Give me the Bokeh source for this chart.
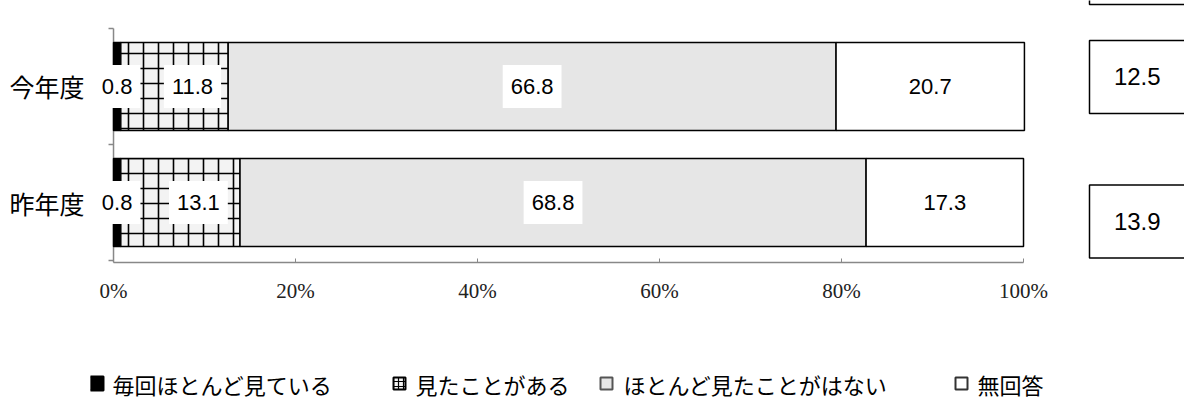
import numpy as np
from bokeh.plotting import figure
from bokeh.models import Range1d, FixedTicker, Label
from bokeh.layouts import column
from bokeh.core.properties import value
from bokeh.embed import file_html
from bokeh.resources import INLINE

# ---------------- data ----------------
years = ["今年度", "昨年度"]
year_pos = [1, 0]
series_names = ["毎回ほとんど見ている", "見たことがある", "ほとんど見たことがはない", "無回答"]
every_time = [0.8, 0.8]
seen_before = [11.8, 13.1]
rarely_seen = [66.8, 68.8]
no_answer = [20.7, 17.3]
side_values = [12.5, 13.9]
x_ticks = [0, 20, 40, 60, 80, 100]
x_tick_labels = ["0%", "20%", "40%", "60%", "80%", "100%"]

# ---------------- styles ----------------
fills = ["black", "#f3f3f3", "#e6e6e6", "white"]
hatches = ["blank", "+", "blank", "blank"]
label_offsets = [0, 18, 0, 0]
VAL_FONT = "Liberation Sans"
CJK_FONT = "Noto Sans CJK JP"
AXIS_COLOR = "#888888"
FRAME_LEFT = 90

p = figure(width=1184, height=318, x_range=Range1d(-2.53, 117.69), y_range=Range1d(-0.517, 1.741),
           output_backend="svg", toolbar_location=None,
           min_border_left=FRAME_LEFT, min_border_right=0, min_border_top=0, min_border_bottom=56)
p.outline_line_color = None
p.grid.visible = False
p.background_fill_color = "white"

# hand-drawn category axis line at x = 0 with boundary ticks
bounds_y = [year_pos[-1] - 0.5] + [y + 0.5 for y in sorted(year_pos)]
p.segment(x0=0, y0=-0.517, x1=0, y1=max(bounds_y), line_color=AXIS_COLOR, line_width=1.5)
p.segment(x0=0, y0=bounds_y, x1=-0.55, y1=bounds_y, line_color=AXIS_COLOR, line_width=1.5)

series = [every_time, seen_before, rarely_seen, no_answer]
left = np.zeros(len(years))
for k, vals in enumerate(series):
    vals = np.array(vals, dtype=float)
    right = left + vals
    kw = {}
    if hatches[k] != "blank":
        kw = dict(hatch_pattern=hatches[k], hatch_color="black", hatch_scale=15, hatch_weight=1.6)
    p.hbar(y=year_pos, left=left, right=right, height=0.76, fill_color=fills[k],
           line_color="black", line_width=1.5, **kw)
    for j in range(len(years)):
        lab = Label(x=(left[j] + right[j]) / 2, y=year_pos[j], text=f"{vals[j]:.1f}",
                    text_align="center", text_baseline="middle", x_offset=label_offsets[k],
                    text_font=VAL_FONT, text_font_size="22px", text_color="black",
                    background_fill_color="white")
        for pad in (dict(x=8, y=14), (8, 14), 10):
            try:
                lab.padding = pad
                break
            except Exception:
                continue
        p.add_layout(lab)
    left = right

# side boxes
box_shift = [0.082, -0.164]
box_cy = [year_pos[j] + box_shift[j] for j in range(len(years))]
p.quad(left=107.25, right=125, top=[c + 0.315 for c in box_cy], bottom=[c - 0.315 for c in box_cy],
       fill_color="white", line_color="black", line_width=1.5)
# partially visible box cut off at the top edge
p.quad(left=107.25, right=125, top=2.2, bottom=1.707, fill_color="white", line_color="black", line_width=1.5)
p.text(x=112.5, y=box_cy, text=[f"{v:.1f}" for v in side_values], text_align="center",
       text_baseline="middle", text_font=value(VAL_FONT), text_font_size="24px", text_color="black")

# axes
xa = p.xaxis[0]
xa.ticker = FixedTicker(ticks=x_ticks)
xa.bounds = (0, 100)
xa.major_label_overrides = {t: l for t, l in zip(x_ticks, x_tick_labels)}
xa.major_label_text_font = "Liberation Serif"
xa.major_label_text_font_size = "21px"
xa.major_label_text_color = "#222222"
xa.axis_line_color = AXIS_COLOR
xa.axis_line_width = 1.5
xa.major_tick_line_color = AXIS_COLOR
xa.major_tick_in = 4
xa.major_tick_out = 0
xa.minor_tick_line_color = None
xa.major_label_standoff = 16

ya = p.yaxis[0]
ya.ticker = FixedTicker(ticks=year_pos)
ya.major_label_overrides = {p_: y for p_, y in zip(year_pos, years)}
ya.major_label_text_font = CJK_FONT
ya.major_label_text_font_size = "25px"
ya.major_label_text_color = "black"
ya.axis_line_color = None
ya.major_tick_line_color = None
ya.minor_tick_line_color = None
ya.major_label_standoff = 0

# legend figure (its frame is aligned with the main frame, so map page x directly)
q = figure(width=1184, height=83, x_range=Range1d(FRAME_LEFT, 1184), y_range=Range1d(0, 83),
           output_backend="svg", toolbar_location=None, min_border=0, min_border_left=FRAME_LEFT,
           x_axis_type=None, y_axis_type=None)
q.outline_line_color = None
q.grid.visible = False
legend_glyph_x = [96, 399, 606, 961]
legend_text_x = [112, 415, 623, 977]
legend_glyph_size = [14, 12, 12, 12]
legend_line = ["black", "black", "#555555", "#333333"]
q.rect(x=legend_glyph_x, y=18, width=legend_glyph_size, height=legend_glyph_size, fill_color=fills,
       line_color=legend_line, line_width=2, hatch_pattern=hatches, hatch_color="black",
       hatch_scale=5, hatch_weight=1.2)
q.text(x=legend_text_x, y=18, text=series_names, text_align="left", text_baseline="middle",
       text_font=value(CJK_FONT), text_font_size="22px", text_color="black")

layout = column(p, q)
open("out.html", "w").write(file_html(layout, INLINE))
